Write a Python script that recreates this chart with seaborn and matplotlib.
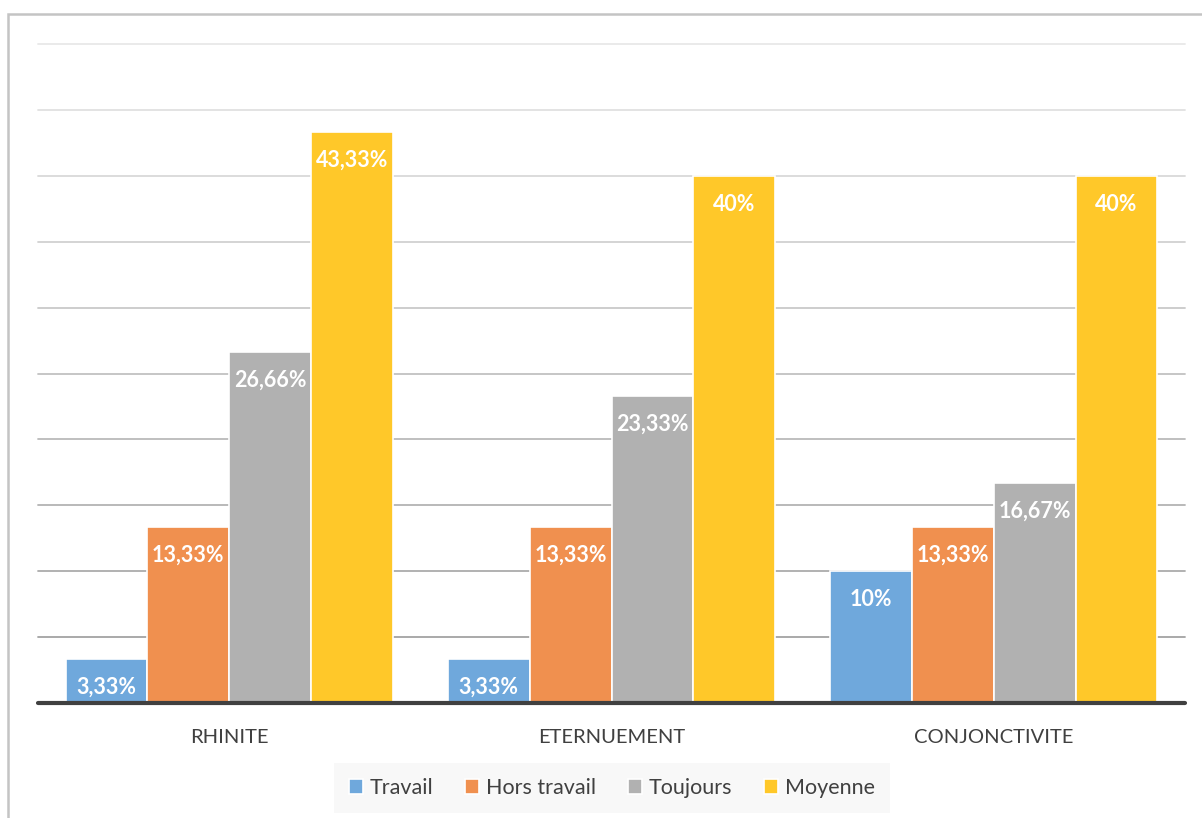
import pandas as pd
import numpy as np
import matplotlib
matplotlib.use("Agg")
import matplotlib.pyplot as plt
import seaborn as sns
from matplotlib.patches import Rectangle

# ==========================================
#  DATA
# ==========================================
categories = ["RHINITE", "ETERNUEMENT", "CONJONCTIVITE"]
series = ["Travail", "Hors travail", "Toujours", "Moyenne"]
travail = [3.33, 3.33, 10]
hors_travail = [13.33, 13.33, 13.33]
toujours = [26.66, 23.33, 16.67]
moyenne = [43.33, 40, 40]

colors = ["#6fa8dc", "#f0904f", "#b1b1b1", "#ffc829"]

rows = []
for name, vals in zip(series, [travail, hors_travail, toujours, moyenne]):
    for cat, v in zip(categories, vals):
        rows.append({"Categorie": cat, "Serie": name, "Valeur": v})
df = pd.DataFrame(rows)

# ==========================================
#  PLOT
# ==========================================
sns.set_style("white")
plt.rcParams["font.family"] = ["Lato", "DejaVu Sans"]

fig = plt.figure(figsize=(12.02, 8.18), dpi=100)
ax = fig.add_axes([38 / 1202, 1 - 703 / 818, (1185 - 38) / 1202, (703 - 44) / 818])

sns.barplot(data=df, x="Categorie", y="Valeur", hue="Serie", order=categories,
            hue_order=series, palette=colors, width=0.856, saturation=1,
            edgecolor="white", linewidth=1.2, ax=ax, zorder=3, legend=True)

ax.set_xlim(-0.5, 2.5)
ax.set_ylim(0, 50)

# gridlines, lighter towards the top
grid_vals = np.arange(5, 55, 5)
for i, g in enumerate(grid_vals):
    shade = 0.64 + 0.27 * i / (len(grid_vals) - 1)
    ax.axhline(g, color=(shade, shade, shade), lw=1.3, zorder=1, clip_on=False)
ax.axhline(0, color="#404040", lw=3, zorder=4, clip_on=False)

for c in ax.containers:
    labels = [f"{b.get_height():g}".replace(".", ",") + "%" for b in c]
    ax.bar_label(c, labels=labels, padding=-28, color="white",
                 fontsize=15.5, fontweight="bold")

for s in ax.spines.values():
    s.set_visible(False)
ax.set_yticks([])
ax.set_xlabel("")
ax.set_ylabel("")
ax.tick_params(axis="x", length=0, pad=18.5, labelsize=14.5, labelcolor="#404040")

leg = ax.legend(loc="center", bbox_to_anchor=(612 / 1202, 1 - 788 / 818),
                bbox_transform=fig.transFigure, ncol=4, frameon=True,
                fontsize=15.5, handlelength=0.65, handleheight=0.65,
                handletextpad=0.3, columnspacing=1.5, borderpad=0.7)
leg.get_frame().set_facecolor("#f7f7f7")
leg.get_frame().set_edgecolor("none")
leg.get_frame().set_boxstyle("square", pad=0)
for t in leg.get_texts():
    t.set_color("#404040")

# outer chart border
fig.patches.append(Rectangle((8 / 1202, -0.1), 1.2, 1 - 14 / 818 + 0.1,
                             transform=fig.transFigure, fill=False,
                             edgecolor="#c4c4c4", lw=1.8))

fig.savefig("out.png", dpi=100, facecolor="white")
